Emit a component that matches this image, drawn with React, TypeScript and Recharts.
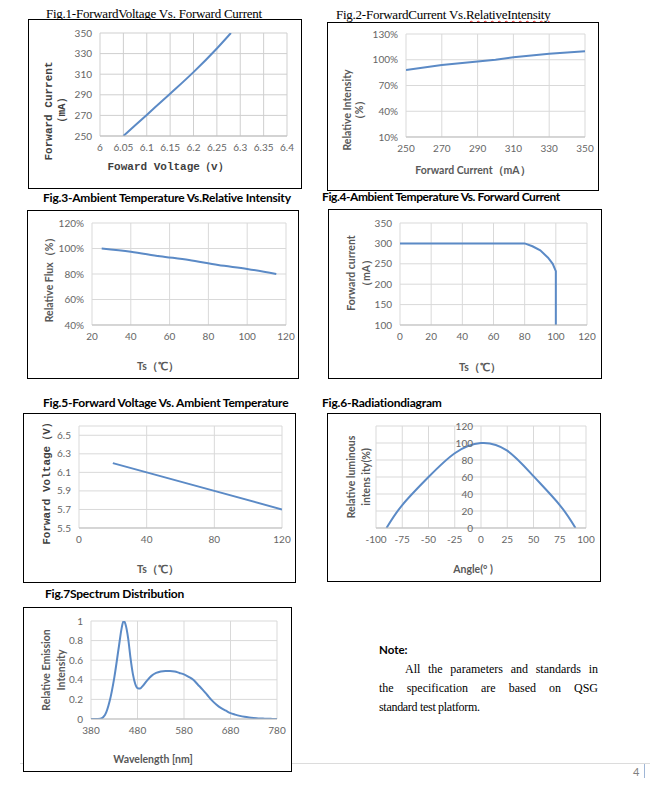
import React from "react";
import { LineChart, Line, XAxis, YAxis, CartesianGrid } from "recharts";

// ---------- Data ----------
const fig1Voltage = [6.05, 6.1, 6.15, 6.2, 6.25, 6.28];
const fig1Current = [250, 270.5, 291, 312, 335, 350];
const fig1XTicks = [6, 6.05, 6.1, 6.15, 6.2, 6.25, 6.3, 6.35, 6.4];
const fig1YTicks = [250, 270, 290, 310, 330, 350];

const fig2Current = [250, 270, 290, 300, 310, 330, 350];
const fig2Intensity = [88, 94, 98, 100, 103, 107, 110];
const fig2XTicks = [250, 270, 290, 310, 330, 350];
const fig2YTicks = [10, 40, 70, 100, 130];

const fig3Temp = [25, 40, 55, 70, 85, 100, 115];
const fig3Flux = [100, 97.5, 94, 91, 87, 84, 80];
const fig3XTicks = [20, 40, 60, 80, 100, 120];
const fig3YTicks = [40, 60, 80, 100, 120];

const fig4Temp = [0, 80, 85, 90, 95, 98, 100, 100];
const fig4Current = [300, 300, 293, 283, 265, 250, 232, 100];
const fig4XTicks = [0, 20, 40, 60, 80, 100, 120];
const fig4YTicks = [100, 150, 200, 250, 300, 350];

const fig5Temp = [20, 40, 80, 120];
const fig5Voltage = [6.2, 6.1, 5.9, 5.7];
const fig5XTicks = [0, 40, 80, 120];
const fig5YTicks = [5.5, 5.7, 5.9, 6.1, 6.3, 6.5];

const fig6Angle = [-90, -75, -50, -25, 0, 25, 50, 75, 90];
const fig6Intensity = [0, 27, 60, 88, 100, 91, 61, 27, 0];
const fig6XTicks = [-100, -75, -50, -25, 0, 25, 50, 75, 100];
const fig6YTicks = [0, 20, 40, 60, 80, 100, 120];

const fig7Wavelength = [380, 390, 400, 410, 420, 430, 440, 446, 450, 454, 460, 465, 470, 475, 480, 485, 490, 500, 510, 520, 530, 540, 550, 560, 570, 580, 590, 600, 610, 620, 630, 640, 650, 660, 670, 680, 690, 700, 710, 720, 730, 740, 750, 760, 770, 780];
const fig7Emission = [0, 0, 0.003, 0.04, 0.18, 0.42, 0.74, 0.93, 1.0, 0.97, 0.82, 0.62, 0.46, 0.36, 0.315, 0.31, 0.33, 0.39, 0.44, 0.47, 0.485, 0.49, 0.49, 0.485, 0.47, 0.455, 0.43, 0.4, 0.35, 0.3, 0.245, 0.19, 0.145, 0.11, 0.085, 0.06, 0.045, 0.032, 0.022, 0.015, 0.01, 0.006, 0.004, 0.002, 0.001, 0];
const fig7XTicks = [380, 480, 580, 680, 780];
const fig7YTicks = [0, 0.2, 0.4, 0.6, 0.8, 1];

const zip = (xs: number[], ys: number[]) => xs.map((x, i) => ({ x, y: ys[i] }));

// ---------- Styles ----------
const LINE = "#5b8ac6";
const GRID = "#d9d9d9";
const TICK = { fill: "#666666", fontSize: 10, fontFamily: "Lato" };
const LM = 60, TM = 10, RM = 24, BM = 30;

type Rect = { x: number; y: number; w: number; h: number };

function Panel(props: {
  plot: Rect;
  data: { x: number; y: number }[];
  xDomain: [number, number];
  yDomain: [number, number];
  xTicks: number[];
  yTicks: number[];
  yFmt?: (v: number) => string;
  curve?: "linear" | "monotone" | "natural";
  grid?: string;
  yShift?: number;
}) {
  const { plot, data, xDomain, yDomain, xTicks, yTicks, yFmt, curve, grid, yShift } = props;
  const shift = yShift || 0;
  const YTick = (p: any) => (
    <text x={p.x + shift} y={p.y} dy="0.35em" textAnchor="end" fill={TICK.fill} fontSize={TICK.fontSize} fontFamily={TICK.fontFamily}>
      {yFmt ? yFmt(p.payload.value) : String(p.payload.value)}
    </text>
  );
  return (
    <div style={{ position: "absolute", left: plot.x - LM, top: plot.y - TM }}>
      <LineChart width={plot.w + LM + RM} height={plot.h + TM + BM} data={data} margin={{ top: TM, right: RM, left: 0, bottom: 0 }} style={{ overflow: "visible" }}>
        <CartesianGrid stroke={grid || GRID} strokeWidth={1} />
        <XAxis type="number" dataKey="x" domain={xDomain} ticks={xTicks} interval={0} height={BM} tickLine={false} axisLine={{ stroke: "#bfbfbf" }} tick={TICK} allowDataOverflow />
        <YAxis type="number" domain={yDomain} ticks={yTicks} interval={0} width={LM} tickLine={false} axisLine={false} tick={<YTick />} allowDataOverflow />
        <Line type={curve || "linear"} dataKey="y" stroke={LINE} strokeWidth={2} dot={false} isAnimationActive={false} />
      </LineChart>
    </div>
  );
}

function Box({ l, t, w, h }: { l: number; t: number; w: number; h: number }) {
  return <div style={{ position: "absolute", left: l, top: t, width: w, height: h, border: "1px solid #000", boxSizing: "border-box", background: "#fff" }} />;
}

function T(props: { cx: number; cy: number; rot?: boolean; style?: React.CSSProperties; children: React.ReactNode }) {
  return (
    <div style={{ position: "absolute", left: props.cx, top: props.cy, transform: `translate(-50%,-50%)${props.rot ? " rotate(-90deg)" : ""}`, whiteSpace: "nowrap", lineHeight: 1, ...props.style }}>
      {props.children}
    </div>
  );
}

function L(props: { x: number; cy: number; style?: React.CSSProperties; children: React.ReactNode }) {
  return (
    <div style={{ position: "absolute", left: props.x, top: props.cy, transform: "translateY(-50%)", whiteSpace: "nowrap", lineHeight: 1, ...props.style }}>
      {props.children}
    </div>
  );
}

const serifTitle: React.CSSProperties = { fontFamily: "Liberation Serif", fontSize: 13, color: "#000", letterSpacing: -0.25 };
const sansTitle: React.CSSProperties = { fontFamily: "Lato", fontWeight: 700, fontSize: 12, color: "#000", letterSpacing: -0.2 };
const axisSans: React.CSSProperties = { fontFamily: "Lato", fontWeight: 700, fontSize: 10.5, color: "#595959" };
const axisSerif: React.CSSProperties = { fontFamily: "Liberation Mono", fontWeight: 700, fontSize: 11, color: "#404040" };

export default function App() {
  return (
    <div style={{ position: "absolute", left: 0, top: 0, width: 650, height: 787, background: "#fff", overflow: "hidden" }}>
      {/* footer rule */}
      <div style={{ position: "absolute", left: 20, top: 763, width: 630, height: 1, background: "#dcdcdc" }} />
      <L x={633} cy={771} style={{ fontFamily: "Lato", fontSize: 11, color: "#7f7f7f" }}>4</L>
      <div style={{ position: "absolute", left: 644, top: 764, width: 1, height: 14, background: "#9fb6d6" }} />

      {/* Fig.1 */}
      <L x={46} cy={13} style={serifTitle}>Fig.1-ForwardVoltage Vs. Forward Current</L>
      <Box l={28} t={19} w={274} h={170} />
      <Panel plot={{ x: 100, y: 33, w: 187, h: 103 }} data={zip(fig1Voltage, fig1Current)} xDomain={[6, 6.4]} yDomain={[250, 350]} xTicks={fig1XTicks} yTicks={fig1YTicks} grid="#cfcfcf" curve="monotone" />
      <T cx={168} cy={167} style={axisSerif}>Foward Voltage（v）</T>
      <T cx={49} cy={111} rot style={axisSerif}>Forward Current</T>
      <T cx={62} cy={110} rot style={axisSerif}>（mA）</T>

      {/* Fig.2 */}
      <L x={336} cy={14} style={serifTitle}>
        Fig.2-ForwardCurrent Vs.<span style={{ textDecoration: "underline wavy #e02020", textDecorationThickness: 1 }}>RelativeIntensity</span>
      </L>
      <Box l={327} t={22} w={272} h={169} />
      <Panel plot={{ x: 406, y: 34, w: 179, h: 103 }} data={zip(fig2Current, fig2Intensity)} xDomain={[250, 350]} yDomain={[10, 130]} xTicks={fig2XTicks} yTicks={fig2YTicks} yFmt={(v) => v + "%"} />
      <T cx={473} cy={170} style={axisSans}>Forward Current（mA）</T>
      <T cx={347} cy={110} rot style={axisSans}>Relative Intensity</T>
      <T cx={359} cy={110} rot style={axisSans}>（%）</T>

      {/* Fig.3 */}
      <L x={43} cy={198} style={sansTitle}>Fig.3-Ambient Temperature Vs.Relative Intensity</L>
      <Box l={27} t={210} w={272} h={169} />
      <Panel plot={{ x: 92, y: 223, w: 194, h: 102 }} data={zip(fig3Temp, fig3Flux)} xDomain={[20, 120]} yDomain={[40, 120]} xTicks={fig3XTicks} yTicks={fig3YTicks} yFmt={(v) => v + "%"} curve="monotone" />
      <T cx={158} cy={366} style={axisSans}>Ts（℃）</T>
      <T cx={49} cy={277} rot style={axisSans}>Relative Flux（%）</T>

      {/* Fig.4 */}
      <L x={322} cy={197} style={{ ...sansTitle, letterSpacing: -0.4 }}>Fig.4-Ambient Temperature Vs. Forward Current</L>
      <Box l={328} t={209} w={274} h={170} />
      <Panel plot={{ x: 400, y: 223, w: 187, h: 102 }} data={zip(fig4Temp, fig4Current)} xDomain={[0, 120]} yDomain={[100, 350]} xTicks={fig4XTicks} yTicks={fig4YTicks} />
      <T cx={480} cy={367} style={axisSans}>Ts（℃）</T>
      <T cx={351} cy={273} rot style={axisSans}>Forward current</T>
      <T cx={366} cy={273} rot style={axisSans}>（mA）</T>

      {/* Fig.5 */}
      <L x={43} cy={403} style={sansTitle}>Fig.5-Forward Voltage Vs. Ambient Temperature</L>
      <Box l={23} t={413} w={273} h={170} />
      <Panel plot={{ x: 79, y: 426, w: 203, h: 102 }} data={zip(fig5Temp, fig5Voltage)} xDomain={[0, 120]} yDomain={[5.5, 6.6]} xTicks={fig5XTicks} yTicks={fig5YTicks} yFmt={(v) => v.toFixed(1)} />
      <T cx={158} cy={569} style={axisSans}>Ts（℃）</T>
      <T cx={47} cy={481} rot style={axisSerif}>Forward Voltage（V）</T>

      {/* Fig.6 */}
      <L x={322} cy={403} style={sansTitle}>Fig.6-Radiationdiagram</L>
      <Box l={327} t={413} w={274} h={169} />
      <Panel plot={{ x: 376, y: 426, w: 210, h: 102 }} data={zip(fig6Angle, fig6Intensity)} xDomain={[-100, 100]} yDomain={[0, 120]} xTicks={fig6XTicks} yTicks={fig6YTicks} curve="natural" yShift={105} />
      <T cx={473} cy={569} style={axisSans}>Angle(° )</T>
      <T cx={351} cy={477} rot style={axisSans}>Relative luminous</T>
      <T cx={366} cy={477} rot style={axisSans}>intens ity(%)</T>

      {/* Fig.7 */}
      <L x={45} cy={594} style={sansTitle}>Fig.7Spectrum Distribution</L>
      <Box l={23} t={607} w={269} h={165} />
      <Panel plot={{ x: 91, y: 621, w: 186, h: 98 }} data={zip(fig7Wavelength, fig7Emission)} xDomain={[380, 780]} yDomain={[0, 1]} xTicks={fig7XTicks} yTicks={fig7YTicks} curve="monotone" />
      <T cx={153} cy={759} style={axisSans}>Wavelength [nm]</T>
      <T cx={46} cy={670} rot style={axisSans}>Relative Emission</T>
      <T cx={61} cy={670} rot style={axisSans}>Intensity</T>

      {/* Note */}
      <L x={379} cy={650} style={{ fontFamily: "Lato", fontWeight: 700, fontSize: 11.5, color: "#000" }}>Note:</L>
      <div style={{ position: "absolute", left: 379, top: 660, width: 219, fontFamily: "Liberation Serif", fontSize: 12, lineHeight: "19px", color: "#000" }}>
        <div style={{ textAlign: "justify", textAlignLast: "justify", paddingLeft: 26 }}>All the parameters and standards in</div>
        <div style={{ textAlign: "justify", textAlignLast: "justify" }}>the specification are based on QSG</div>
        <div style={{ letterSpacing: -0.3 }}>standard test platform.</div>
      </div>
    </div>
  );
}
